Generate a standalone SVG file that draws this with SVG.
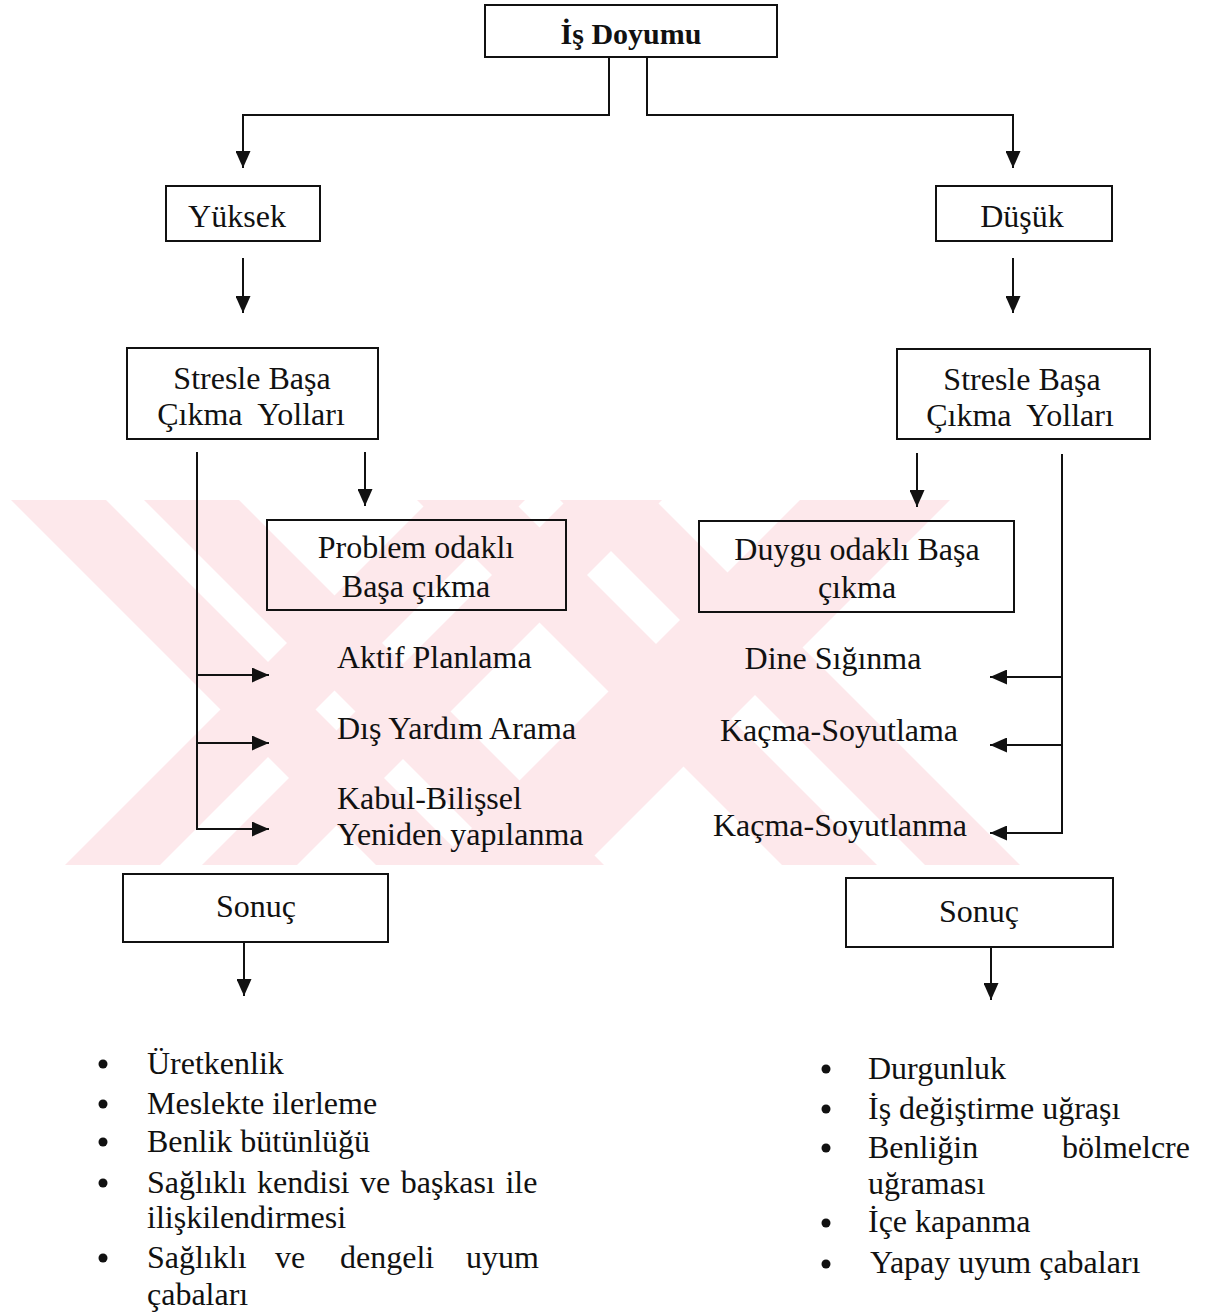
<svg xmlns="http://www.w3.org/2000/svg" width="1208" height="1312" viewBox="0 0 1208 1312">
<style>
  .bx { fill: none; stroke: #111; stroke-width: 2; }
  .ln { fill: none; stroke: #111; stroke-width: 2; }
  text { font-family: "Liberation Serif", "Times New Roman", serif; font-size: 32px; fill: #111; }
  .c { text-anchor: middle; }
  .b { font-weight: bold; font-size: 30px; }
  .wm { fill: #fde8eb; stroke: none; }
  .dot { fill: #111; }
</style>
<defs>
  <marker id="ah" markerUnits="userSpaceOnUse" markerWidth="18" markerHeight="15" refX="17" refY="7.5" orient="auto">
    <path d="M0,0 L17,7.5 L0,15 Z" fill="#111"/>
  </marker>
  <clipPath id="wmclip"><rect x="0" y="500" width="1208" height="365"/></clipPath>
</defs>
<rect x="0" y="0" width="1208" height="1312" fill="#fff"/>

<g id="watermark" clip-path="url(#wmclip)">
  <polygon class="wm" points="11,500 106,500 471,865 376,865"/>
  <polygon class="wm" points="144,500 239,500 604,865 509,865"/>
  <polygon class="wm" points="430,500 525,500 160,865 65,865"/>
  <polygon class="wm" points="567,500 662,500 297,865 202,865"/>
  <polygon class="wm" points="417,500 512,500 877,865 782,865"/>
  <polygon class="wm" points="560,500 655,500 1020,865 925,865"/>
  <polygon class="wm" points="800,500 950,500 585,865 435,865"/>
</g>

<g id="connectors">
  <path class="ln" d="M609,58 V115 H243 V168" marker-end="url(#ah)"/>
  <path class="ln" d="M647,58 V115 H1013 V168" marker-end="url(#ah)"/>
  <path class="ln" d="M243,258 V313" marker-end="url(#ah)"/>
  <path class="ln" d="M1013,258 V313" marker-end="url(#ah)"/>
  <path class="ln" d="M365,452 V506" marker-end="url(#ah)"/>
  <path class="ln" d="M197,452 V829 H269" marker-end="url(#ah)"/>
  <path class="ln" d="M197,675 H269" marker-end="url(#ah)"/>
  <path class="ln" d="M197,743 H269" marker-end="url(#ah)"/>
  <path class="ln" d="M917,453 V507" marker-end="url(#ah)"/>
  <path class="ln" d="M1062,454 V833 H990" marker-end="url(#ah)"/>
  <path class="ln" d="M1062,677 H990" marker-end="url(#ah)"/>
  <path class="ln" d="M1062,745 H990" marker-end="url(#ah)"/>
  <path class="ln" d="M244,942 V996" marker-end="url(#ah)"/>
  <path class="ln" d="M991,947 V1000" marker-end="url(#ah)"/>
</g>

<g id="is-doyumu">
  <rect class="bx" x="485" y="5" width="292" height="52"/>
  <text class="c b" x="631" y="44">İş Doyumu</text>
</g>
<g id="yuksek">
  <rect class="bx" x="166" y="186" width="154" height="55"/>
  <text class="c" x="237" y="227">Yüksek</text>
</g>
<g id="dusuk">
  <rect class="bx" x="936" y="186" width="176" height="55"/>
  <text class="c" x="1022" y="227">Düşük</text>
</g>
<g id="stresle-left">
  <rect class="bx" x="127" y="348" width="251" height="91"/>
  <text class="c" x="252" y="389">Stresle Başa</text>
  <text class="c" x="251" y="425" xml:space="preserve">Çıkma  Yolları</text>
</g>
<g id="stresle-right">
  <rect class="bx" x="897" y="349" width="253" height="90"/>
  <text class="c" x="1022" y="390">Stresle Başa</text>
  <text class="c" x="1020" y="426" xml:space="preserve">Çıkma  Yolları</text>
</g>
<g id="problem">
  <rect class="bx" x="267" y="520" width="299" height="90"/>
  <text class="c" x="416" y="558">Problem odaklı</text>
  <text class="c" x="416" y="597">Başa çıkma</text>
</g>
<g id="duygu">
  <rect class="bx" x="699" y="521" width="315" height="91"/>
  <text class="c" x="857" y="560">Duygu odaklı Başa</text>
  <text class="c" x="857" y="598">çıkma</text>
</g>
<g id="left-items">
  <text x="337" y="668">Aktif Planlama</text>
  <text x="337" y="739">Dış Yardım Arama</text>
  <text x="337" y="809">Kabul-Bilişsel</text>
  <text x="337" y="845">Yeniden yapılanma</text>
</g>
<g id="right-items">
  <text class="c" x="833" y="669">Dine Sığınma</text>
  <text class="c" x="839" y="741">Kaçma-Soyutlama</text>
  <text class="c" x="840" y="836">Kaçma-Soyutlanma</text>
</g>
<g id="sonuc-left">
  <rect class="bx" x="123" y="874" width="265" height="68"/>
  <text class="c" x="256" y="917">Sonuç</text>
</g>
<g id="sonuc-right">
  <rect class="bx" x="846" y="878" width="267" height="69"/>
  <text class="c" x="979" y="922">Sonuç</text>
</g>
<g id="left-list">
  <circle class="dot" cx="103" cy="1064" r="4.5"/>
  <text x="147" y="1074">Üretkenlik</text>
  <circle class="dot" cx="103" cy="1104" r="4.5"/>
  <text x="147" y="1114">Meslekte ilerleme</text>
  <circle class="dot" cx="103" cy="1142" r="4.5"/>
  <text x="147" y="1152">Benlik bütünlüğü</text>
  <circle class="dot" cx="103" cy="1183" r="4.5"/>
  <text x="147" y="1193" word-spacing="2.5">Sağlıklı kendisi ve başkası ile</text>
  <text x="147" y="1228">ilişkilendirmesi</text>
  <circle class="dot" cx="103" cy="1258" r="4.5"/>
  <text y="1268"><tspan x="147">Sağlıklı</tspan> <tspan x="275">ve</tspan> <tspan x="340">dengeli</tspan> <tspan x="466">uyum</tspan></text>
  <text x="147" y="1305">çabaları</text>
</g>
<g id="right-list">
  <circle class="dot" cx="826" cy="1069" r="4.5"/>
  <text x="868" y="1079">Durgunluk</text>
  <circle class="dot" cx="826" cy="1109" r="4.5"/>
  <text x="868" y="1119">İş değiştirme uğraşı</text>
  <circle class="dot" cx="826" cy="1148" r="4.5"/>
  <text y="1158"><tspan x="868">Benliğin</tspan> <tspan x="1062">bölmelcre</tspan></text>
  <text x="868" y="1194">uğraması</text>
  <circle class="dot" cx="826" cy="1223" r="4.5"/>
  <text x="868" y="1232">İçe kapanma</text>
  <circle class="dot" cx="826" cy="1264" r="4.5"/>
  <text x="870" y="1273">Yapay uyum çabaları</text>
</g>
</svg>
